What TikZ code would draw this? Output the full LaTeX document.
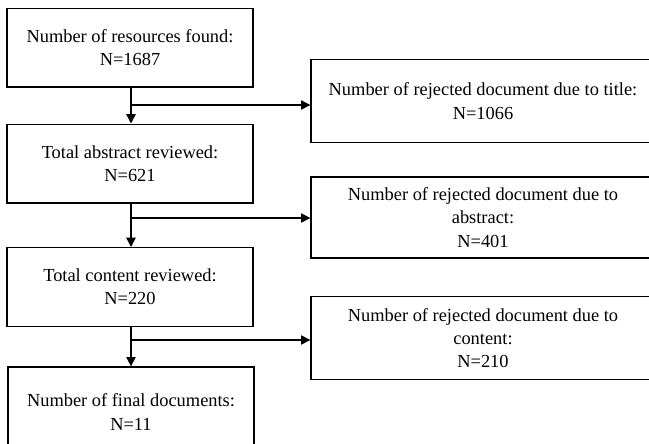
\documentclass[tikz,border=0pt]{standalone}
\usepackage{fontspec}
\setmainfont{Liberation Serif}
\usetikzlibrary{arrows.meta}
\begin{document}
\begin{tikzpicture}[x=0.75pt,y=-0.75pt,
        box/.style={draw,line width=1pt,align=center,inner sep=2pt,
            font=\fontsize{13.8}{17.5}\selectfont},
        lbox/.style={box,minimum width=184.5pt,minimum height=59pt},
        rbox/.style={box,minimum width=258pt,minimum height=62pt},
        flow/.style={line width=1pt,-{Triangle[length=7pt,width=7pt]}}]
            \useasboundingbox (0,0) rectangle (649,443);
            \clip (0,0) rectangle (649,443);
            % main column
            \node[lbox] (found) at (130,47.5) {Number of resources found:\\N=1687};
            \node[lbox] (abstract) at (130,163.5) {Total abstract reviewed:\\N=621};
            \node[lbox] (content) at (130,287) {Total content reviewed:\\N=220};
            \node[lbox,minimum height=67.5pt] (final) at (131,412) {Number of final documents:\\N=11};
            % rejected documents
            \node[rbox] (title) at (483,101) {Number of rejected document due to title:\\N=1066};
            \node[rbox,minimum height=60.75pt] (rejabs) at (483,217.5)
                {Number of rejected document due to\\abstract:\\N=401};
            \node[rbox] (rejcont) at (483,338)
                {Number of rejected document due to\\content:\\N=210};
            % connectors
            \coordinate (b1) at (131,105);
            \coordinate (b2) at (131,218);
            \coordinate (b3) at (131,340);
            \draw[flow] (found.south -| b1) -- (abstract.north -| b1);
            \draw[flow] (abstract.south -| b2) -- (content.north -| b2);
            \draw[flow] (content.south -| b3) -- (final.north -| b3);
            \draw[flow] (b1) -- (b1 -| title.west);
            \draw[flow] (b2) -- (b2 -| rejabs.west);
            \draw[flow] (b3) -- (b3 -| rejcont.west);
        \end{tikzpicture}
\end{document}
